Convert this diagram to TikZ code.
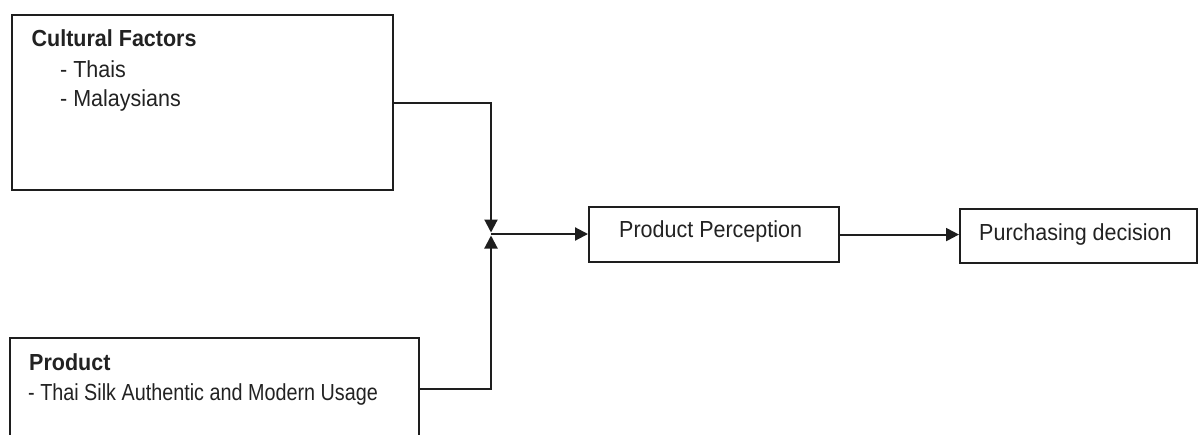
\documentclass[tikz,border=0pt]{standalone}
\usepackage{fontspec}
\usepackage{graphicx}
\setmainfont{Liberation Sans}
\usetikzlibrary{arrows.meta}
\definecolor{ink}{HTML}{1E1E1E}
\definecolor{txt}{HTML}{222222}
\newcommand{\tall}[2][1]{\scalebox{#1}[1.08]{#2}}
\tikzset{
  box/.style={draw=ink, line width=2.1pt, fill=white, inner sep=0pt, anchor=north west},
  lbl/.style={inner sep=0pt, anchor=base west, text=txt, font=\fontsize{21.5pt}{24pt}\selectfont},
  hdr/.style={lbl, font=\fontsize{21.5pt}{24pt}\selectfont\bfseries},
  conn/.style={draw=ink, line width=2.1pt},
  arr/.style={conn, -{Triangle[length=13pt,width=13pt]}}
}
\begin{document}
\begin{tikzpicture}[x=1pt,y=-1pt]
\useasboundingbox (0,0) rectangle (1198,434);
\clip (0,0) rectangle (1198,434);
\fill[white] (0,0) rectangle (1198,434);
% boxes
\node[box, minimum width=381pt, minimum height=175pt] (b1) at (11,14) {};
\node[box, minimum width=409pt, minimum height=102pt] (b2) at (9,337) {};
\node[box, minimum width=250pt, minimum height=55pt] (pp) at (588,206) {};
\node[box, minimum width=237pt, minimum height=54pt] (pd) at (959,208) {};
% texts
\node[hdr] (t1) at (31.5,46.5) {\tall{Cultural Factors}};
\node[lbl] (t2) at (60,77) {\tall{- Thais}};
\node[lbl] (t3) at (60,106) {\tall{- Malaysians}};
\node[hdr] (t4) at (29,370) {\tall{Product}};
\node[lbl] (t5) at (28,400) {\tall[0.92]{- Thai Silk Authentic and Modern Usage}};
\node[lbl] (t6) at (619,237) {\tall{Product Perception}};
\node[lbl] (t7) at (979,240) {\tall{Purchasing decision}};
% junction
\coordinate (J) at (491,234);
\draw[arr, shorten >=1.5pt] (b1.east) -| (J);
\draw[arr, shorten >=1.5pt] (b2.east) -| (J);
\draw[arr] (J) -- (J -| pp.west);
\draw[arr] (pp.east) -- (pp.east -| pd.west);
\end{tikzpicture}
\end{document}
